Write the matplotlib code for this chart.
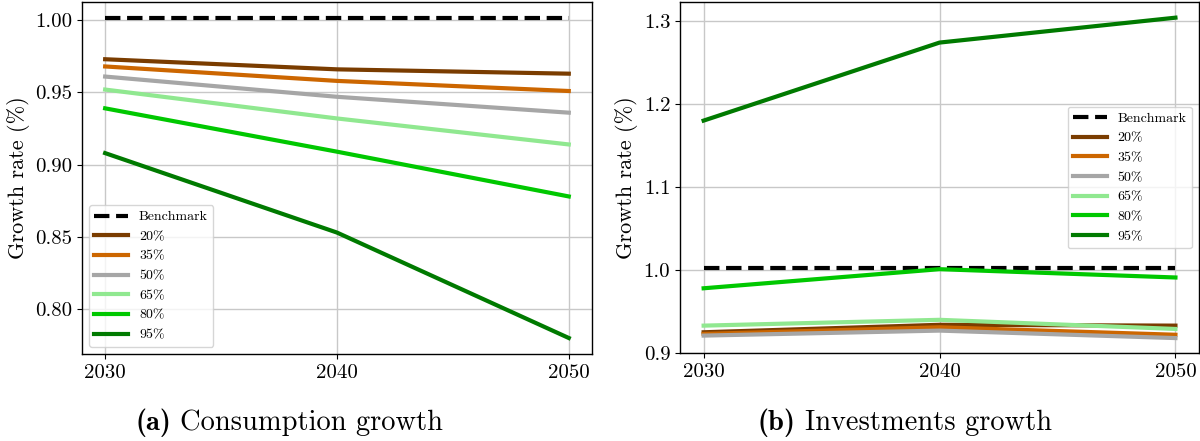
import matplotlib
matplotlib.use("Agg")
import matplotlib.pyplot as plt

plt.rcParams['font.family'] = ['cmr10', 'DejaVu Serif']
plt.rcParams['mathtext.fontset'] = 'cm'
plt.rcParams['axes.formatter.use_mathtext'] = True
plt.rcParams['axes.unicode_minus'] = False

years = [2030, 2040, 2050]
labels = ['Benchmark', '20%', '35%', '50%', '65%', '80%', '95%']
colors = ['black', '#7a3c00', '#cc6600', '#a6a6a6', '#90e890', '#00c800', '#007a00']

cons_bench = [1.0015, 1.0015, 1.0015]
cons_20 = [0.973, 0.966, 0.963]
cons_35 = [0.968, 0.958, 0.951]
cons_50 = [0.961, 0.947, 0.936]
cons_65 = [0.952, 0.932, 0.914]
cons_80 = [0.939, 0.909, 0.878]
cons_95 = [0.908, 0.853, 0.780]

inv_bench = [1.002, 1.002, 1.002]
inv_20 = [0.925, 0.934, 0.933]
inv_35 = [0.923, 0.931, 0.922]
inv_50 = [0.921, 0.927, 0.918]
inv_65 = [0.933, 0.940, 0.929]
inv_80 = [0.978, 1.001, 0.991]
inv_95 = [1.180, 1.274, 1.304]

cons = [cons_bench, cons_20, cons_35, cons_50, cons_65, cons_80, cons_95]
inv = [inv_bench, inv_20, inv_35, inv_50, inv_65, inv_80, inv_95]

fig = plt.figure(figsize=(12, 4.41), dpi=100)
ax1 = fig.add_axes([0.0683, 0.1973, 0.425, 0.798])
ax2 = fig.add_axes([0.5667, 0.1995, 0.4325, 0.796])

def draw(ax, series, loc, yfmt):
    for i, (s, lab, c) in enumerate(zip(series, labels, colors)):
        ls = '--' if i == 0 else '-'
        ax.plot(years, s, ls, color=c, lw=3, label=lab, zorder=3)
    ax.grid(True, color='#c8c8c8', lw=1)
    ax.set_axisbelow(True)
    ax.set_xticks(years)
    ax.set_xticklabels([str(y) for y in years])
    ax.tick_params(labelsize=15)
    ax.set_ylabel('Growth rate (%)', fontsize=16)
    ax.yaxis.set_major_formatter(matplotlib.ticker.FormatStrFormatter(yfmt))
    for sp in ax.spines.values():
        sp.set_linewidth(1.0)
    ax.legend(loc=loc, fontsize=10, handlelength=2.4, framealpha=0.8)

draw(ax1, cons, 'lower left', '%.2f')
ax1.set_yticks([0.80, 0.85, 0.90, 0.95, 1.00])
draw(ax2, inv, 'center right', '%.1f')
ax2.set_yticks([0.9, 1.0, 1.1, 1.2, 1.3])
ax2.set_ylim(0.9, 1.3229)

renderer = fig.canvas.get_renderer()
base_y = (441 - 430) / 441
for x0, tag, rest in [(135, '(a)', 'Consumption growth'), (758, '(b)', 'Investments growth')]:
    t1 = fig.text(x0 / 1200, base_y, tag, fontfamily='cmb10', fontsize=20.5, va='baseline', ha='left')
    bb = t1.get_window_extent(renderer)
    fig.text((bb.x1 + 9) / 1200, base_y, rest, fontsize=20.5, va='baseline', ha='left')

fig.savefig('out.png', dpi=100)
